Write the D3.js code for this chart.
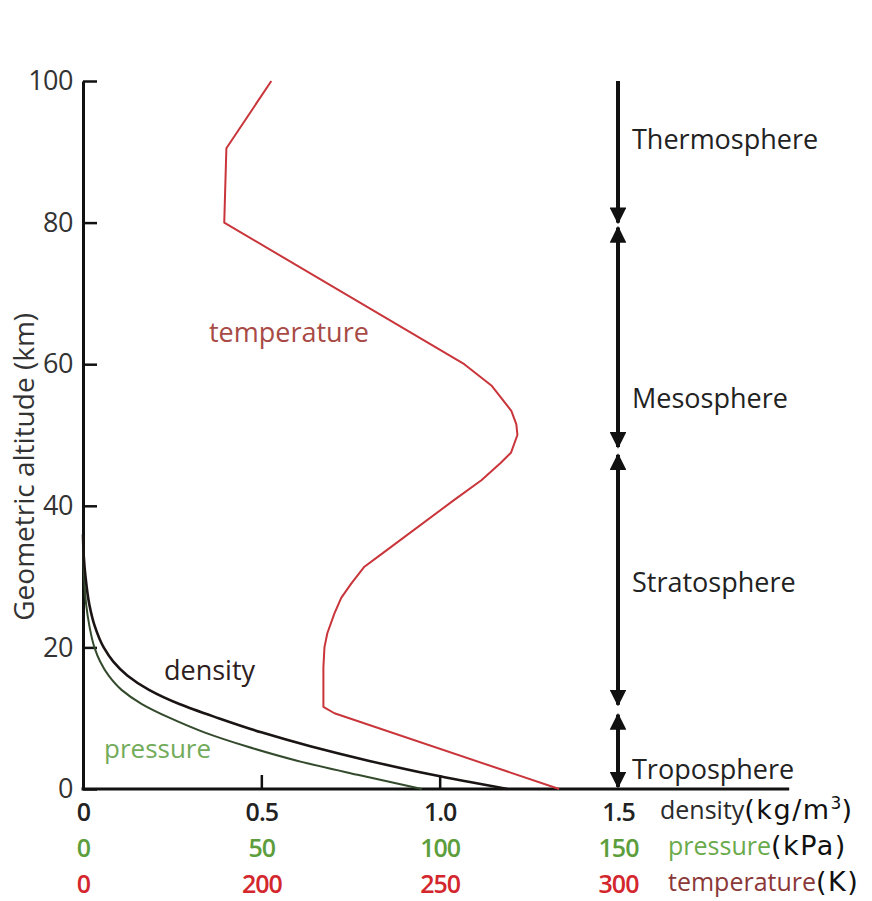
<!doctype html>
<html lang="en">
<head>
  <meta charset="utf-8">
  <title>Atmosphere profile</title>
  <script src="https://cdnjs.cloudflare.com/ajax/libs/d3/7.8.5/d3.min.js"></script>
  <style>
    body { margin: 0; background: #fff; }
    svg text { font-family: "Open Sans", "Noto Sans", sans-serif; }
  </style>
</head>
<body>
  <div id="chart"></div>
  <script>
  // altitude (km) vs. value
  var densityAlt = [0, 2, 4, 6, 8, 10, 12, 14, 16, 18, 20, 23, 26, 30, 33, 36];
  var densityVal = [1.19, 0.98, 0.8, 0.64, 0.5, 0.38, 0.27, 0.185, 0.125, 0.085, 0.058, 0.033, 0.018, 0.007, 0.002, 0];

  var pressureAlt = [0, 2, 4, 6, 8, 10, 12, 14, 16, 18, 20, 23, 26, 30, 33, 36];
  var pressureVal = [95, 77, 60, 46, 34, 24.5, 16.5, 10.8, 7.2, 4.8, 3.2, 1.8, 0.9, 0.3, 0.08, 0];

  var tempAlt = [0, 10.7, 11.6, 17.2, 20, 22, 24.8, 27, 29, 31.4, 33, 40.8, 43.6, 46, 47.5, 50, 51.5, 53.4, 57, 60, 80, 90.5, 100];
  var tempVal = [283.5, 220.5, 217.4, 217.4, 217.7, 218.5, 220.5, 222.4, 225.2, 228.9, 233.2, 254, 261.7, 267, 270, 271.8, 271.5, 270.1, 264.5, 256.9, 189.6, 190.2, 202.8];

  // layers shown by the arrows on the right
  var layerNames = ["Thermosphere", "Mesosphere", "Stratosphere", "Troposphere"];
  var layerTop = [100, 79.3, 47.2, 10.5];
  var layerBottom = [80, 48.3, 11.9, 0.3];
  var layerUpHead = [false, true, true, true];
  var layerLabelAlt = [91.7, 55.2, 29.1, 2.7];

  var altTicks = [0, 20, 40, 60, 80, 100];
  var densityTicks = [0, 0.5, 1.0, 1.5];
  var densityLabels = ["0", "0.5", "1.0", "1.5"];
  var pressureTicks = [0, 50, 100, 150];
  var pressureLabels = ["0", "50", "100", "150"];
  var tempTicks = [150, 200, 250, 300];
  var tempLabels = ["0", "200", "250", "300"];

  var width = 872, height = 901;
  var svg = d3.select("#chart").append("svg")
      .attr("width", width)
      .attr("height", height);

  var y = d3.scaleLinear().domain([0, 100]).range([789, 81]);
  var xDen = d3.scaleLinear().domain([0, 1.5]).range([83, 618]);
  var xPres = d3.scaleLinear().domain([0, 150]).range([83, 618]);
  // temperature axis is broken: its "0" sits where 150 K would be
  var xTemp = d3.scaleLinear().domain([150, 300]).range([83, 618]);

  // y axis
  var yAxis = svg.append("g")
      .attr("transform", "translate(" + xDen(0) + ",0)")
      .call(d3.axisLeft(y).tickValues(altTicks).tickSize(-14).tickSizeOuter(0).tickPadding(10));
  yAxis.select(".domain").attr("stroke", "#111").attr("stroke-width", 3);
  yAxis.selectAll(".tick line").attr("stroke", "#111").attr("stroke-width", 2.5);
  yAxis.selectAll(".tick text").attr("fill", "#333").style("font-size", "27px")
      .style("letter-spacing", "-0.5px");

  svg.append("text")
      .attr("transform", "translate(34," + y(45.5) + ") rotate(-90)")
      .attr("text-anchor", "middle")
      .attr("fill", "#333")
      .style("font-size", "28px")
      .text("Geometric altitude (km)");

  // x axis baseline, runs past the last tick
  svg.append("line")
      .attr("x1", xDen(0) - 1.5).attr("x2", xDen(1.98))
      .attr("y1", y(0)).attr("y2", y(0))
      .attr("stroke", "#111").attr("stroke-width", 3);

  var xTickG = svg.append("g")
      .attr("transform", "translate(0," + y(0) + ")")
      .call(d3.axisBottom(xDen).tickValues([0.5, 1.0]).tickSize(-14).tickFormat(""));
  xTickG.select(".domain").remove();
  xTickG.selectAll(".tick line").attr("stroke", "#111").attr("stroke-width", 2.5);

  function labelRow(scale, vals, labels, yPos, color) {
    var g = svg.append("g")
        .attr("transform", "translate(0," + yPos + ")")
        .call(d3.axisBottom(scale).tickValues(vals).tickSize(0).tickPadding(0)
          .tickFormat(function(d, i) { return labels[i]; }));
    g.select(".domain").remove();
    g.selectAll(".tick text")
        .attr("fill", color)
        .attr("dy", "0.35em")
        .style("font-size", "25px")
        .style("font-weight", 600)
        .style("letter-spacing", "-1px");
  }
  labelRow(xDen, densityTicks, densityLabels, 812, "#222");
  labelRow(xPres, pressureTicks, pressureLabels, 848, "#5c9e3c");
  labelRow(xTemp, tempTicks, tempLabels, 884, "#d3272d");

  var unitFont = "'DejaVu Sans', Verdana, sans-serif";
  function unitLabel(name, unit, yPos, color, x0) {
    var t = svg.append("text")
        .attr("x", x0).attr("y", yPos).attr("dy", "0.35em")
        .style("font-size", "25px");
    t.append("tspan").attr("fill", color).text(name);
    t.append("tspan").attr("fill", "#111")
        .style("font-family", unitFont)
        .style("font-size", "27px")
        .style("letter-spacing", "1.5px")
        .text(unit);
    return t;
  }
  var denUnit = unitLabel("density", "(kg/m", 810, "#2a2a2a", 660);
  denUnit.append("tspan").attr("fill", "#111").attr("dy", "-10")
      .style("font-family", unitFont).style("font-size", "17px").text("3");
  denUnit.append("tspan").attr("fill", "#111").attr("dy", "10")
      .style("font-family", unitFont).style("font-size", "27px").text(")");
  unitLabel("pressure", "(kPa)", 846, "#6aaa4a", 668);
  unitLabel("temperature", "(K)", 882, "#8a3838", 668);

  // curves
  var curveLine = function(xs, curve) {
    return d3.line()
      .x(function(d) { return xs(d[1]); })
      .y(function(d) { return y(d[0]); })
      .curve(curve);
  };

  svg.append("path")
      .datum(d3.zip(pressureAlt, pressureVal))
      .attr("fill", "none").attr("stroke", "#344a2c").attr("stroke-width", 2)
      .attr("d", curveLine(xPres, d3.curveMonotoneY));

  svg.append("path")
      .datum(d3.zip(densityAlt, densityVal))
      .attr("fill", "none").attr("stroke", "#1a1414").attr("stroke-width", 2.6)
      .attr("d", curveLine(xDen, d3.curveMonotoneY));

  svg.append("path")
      .datum(d3.zip(tempAlt, tempVal))
      .attr("fill", "none").attr("stroke", "#c9353a").attr("stroke-width", 2)
      .attr("stroke-linejoin", "round")
      .attr("d", curveLine(xTemp, d3.curveLinear));

  // curve names
  svg.append("text").attr("x", 209).attr("y", y(64.5)).attr("dy", "0.35em")
      .attr("fill", "#a84a45").style("font-size", "27px").text("temperature");
  svg.append("text").attr("x", 164).attr("y", y(16.8)).attr("dy", "0.35em")
      .attr("fill", "#2e2020").style("font-size", "27px").text("density");
  svg.append("text").attr("x", 104).attr("y", y(5.7)).attr("dy", "0.35em")
      .attr("fill", "#72ab5a").style("font-size", "26px").text("pressure");

  // layer arrows
  var defs = svg.append("defs");
  defs.append("marker")
      .attr("id", "head")
      .attr("viewBox", "0 0 10 10")
      .attr("refX", 9).attr("refY", 5)
      .attr("markerWidth", 4.2).attr("markerHeight", 4.2)
      .attr("markerUnits", "strokeWidth")
      .attr("orient", "auto-start-reverse")
      .append("path").attr("d", "M0,0 L10,5 L0,10 Z").attr("fill", "#111");

  var ax = xDen(1.5);
  layerNames.forEach(function(name, i) {
    var ln = svg.append("line")
        .attr("x1", ax).attr("x2", ax)
        .attr("y1", y(layerTop[i])).attr("y2", y(layerBottom[i]))
        .attr("stroke", "#111").attr("stroke-width", 4)
        .attr("marker-end", "url(#head)");
    if (layerUpHead[i]) ln.attr("marker-start", "url(#head)");
    svg.append("text")
        .attr("x", ax + 14).attr("y", y(layerLabelAlt[i])).attr("dy", "0.35em")
        .attr("fill", "#222").style("font-size", "27px")
        .text(name);
  });
  </script>
</body>
</html>
